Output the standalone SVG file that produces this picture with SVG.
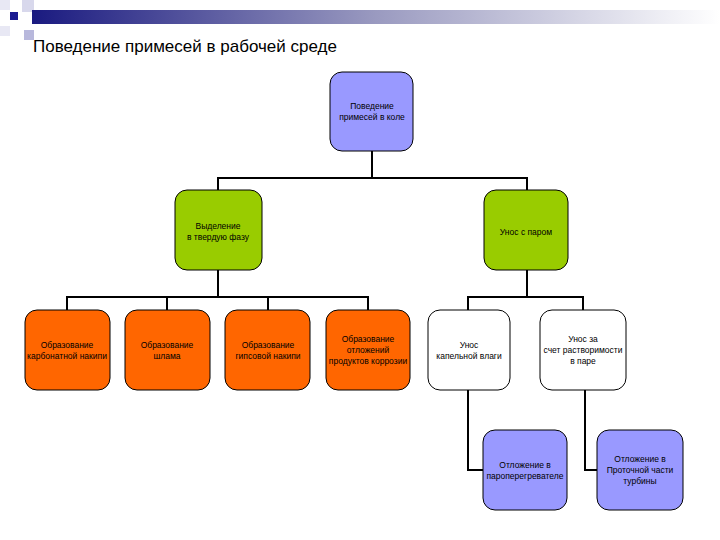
<svg xmlns="http://www.w3.org/2000/svg" width="720" height="540" viewBox="0 0 720 540">
<defs>
<linearGradient id="bar" x1="0" x2="1" y1="0" y2="0"><stop offset="0" stop-color="#1a1a80"/><stop offset="0.5" stop-color="#9a9ac0"/><stop offset="1" stop-color="#ffffff"/></linearGradient>
<style>
.n{stroke:#000;stroke-width:1}
.b{fill:#9999ff}.g{fill:#99cc00}.o{fill:#ff6600}.w{fill:#fff}
text{font-family:"Liberation Sans",Arial,sans-serif;font-size:8.5px;text-anchor:middle;fill:#000}
.c{stroke:#000;stroke-width:2;fill:none}
</style>
</defs>
<rect width="720" height="540" fill="#fff"/>
<g id="header">
<rect x="22" y="0" width="12" height="12" fill="#d8d8ec"/>
<rect x="0" y="0" width="10" height="10" fill="#e8e8f4"/>
<rect x="24" y="30" width="10" height="10" fill="#b8b8dc"/>
<rect x="0" y="26" width="10" height="10" fill="#e8e8f4"/>
<rect x="32" y="10" width="688" height="14" fill="url(#bar)"/>
<rect x="10" y="12" width="8" height="8" fill="#1a1a90"/>
<text x="33" y="52" style="font-size:17px;text-anchor:start">Поведение примесей в рабочей среде</text>
</g>
<g id="connectors">
<path class="c" d="M372 151V178M218 190V178H527V190M218 270V297M67 310V297H368V310M167 297V310M268 297V310M527 270V297M468 310V297H583V310M468 390V470H483M585 390V470H597"/>
</g>
<g id="root"><rect class="n b" x="330" y="72" width="83" height="79" rx="12"/><text x="372" y="109">Поведение</text><text x="372" y="120">примесей в коле</text></g>
<g id="solid"><rect class="n g" x="175" y="190" width="87" height="80" rx="12"/><text x="218" y="229">Выделение</text><text x="218" y="240">в твердую фазу</text></g>
<g id="steam"><rect class="n g" x="484" y="190" width="84" height="80" rx="12"/><text x="526" y="235">Унос с паром</text></g>
<g id="o1"><rect class="n o" x="25" y="310" width="85" height="80" rx="12"/><text x="67" y="348">Образование</text><text x="67" y="359">карбонатной накипи</text></g>
<g id="o2"><rect class="n o" x="125" y="310" width="85" height="80" rx="12"/><text x="167" y="348">Образование</text><text x="167" y="359">шлама</text></g>
<g id="o3"><rect class="n o" x="225" y="310" width="85" height="80" rx="12"/><text x="268" y="348">Образование</text><text x="268" y="359">гипсовой накипи</text></g>
<g id="o4"><rect class="n o" x="326" y="310" width="84" height="80" rx="12"/><text x="368" y="342">Образование</text><text x="368" y="353">отложений</text><text x="368" y="364">продуктов коррозии</text></g>
<g id="w1"><rect class="n w" x="428" y="310" width="82" height="80" rx="12"/><text x="469" y="348">Унос</text><text x="469" y="359">капельной влаги</text></g>
<g id="w2"><rect class="n w" x="540" y="310" width="86" height="80" rx="12"/><text x="583" y="342">Унос за</text><text x="583" y="353">счет растворимости</text><text x="583" y="364">в паре</text></g>
<g id="b1"><rect class="n b" x="483" y="430" width="84" height="80" rx="12"/><text x="525" y="468">Отложение в</text><text x="525" y="479">пароперегревателе</text></g>
<g id="b2"><rect class="n b" x="597" y="430" width="86" height="80" rx="12"/><text x="640" y="462">Отложение в</text><text x="640" y="473">Проточной части</text><text x="640" y="484">турбины</text></g>
</svg>
